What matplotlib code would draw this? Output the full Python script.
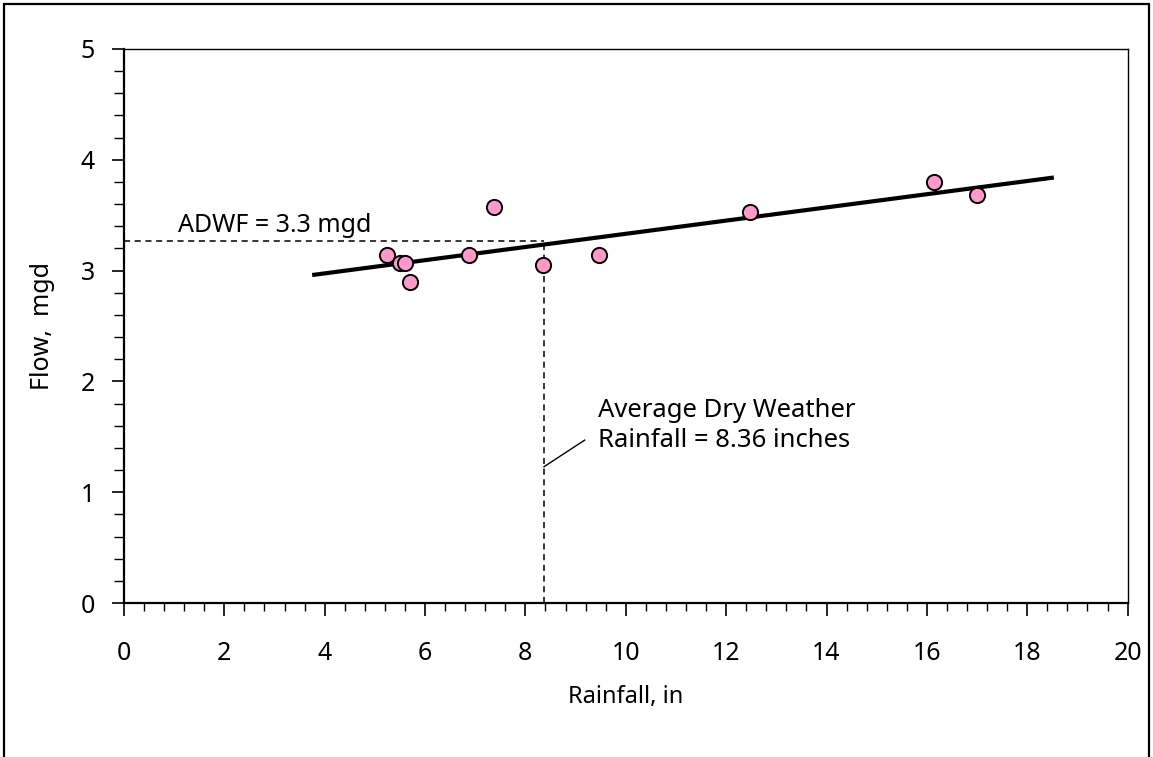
import matplotlib
matplotlib.use("Agg")
import matplotlib.pyplot as plt
from matplotlib.ticker import MultipleLocator
from matplotlib.patches import Rectangle

rainfall = [5.24, 5.50, 5.60, 5.70, 6.87, 7.37, 8.35, 9.46, 12.47, 16.14, 16.99]
flow = [3.14, 3.07, 3.07, 2.90, 3.14, 3.57, 3.05, 3.14, 3.53, 3.80, 3.68]
fit_x = [3.75, 18.53]
fit_y = [2.96, 3.84]
adwf_x = 8.37
adwf_y = 3.27

plt.rcParams['font.family'] = ['Noto Sans', 'DejaVu Sans']
fig = plt.figure(figsize=(11.53, 7.57), dpi=100)
ax = fig.add_axes([0.1075, 0.2034, 0.8705, 0.7319])

ax.plot(fit_x, fit_y, color='black', lw=3.0, solid_capstyle='butt', zorder=2)
ax.scatter(rainfall, flow, s=120, facecolor='#FF99CC', edgecolor='black', linewidth=1.4, zorder=3)
ax.plot([0, adwf_x], [adwf_y, adwf_y], color='black', lw=1.1, ls=(0, (4, 3)), zorder=1)
ax.plot([adwf_x, adwf_x], [0, adwf_y], color='black', lw=1.1, ls=(0, (4, 3)), zorder=1)

ax.text(1.08, 3.35, 'ADWF = 3.3 mgd', fontsize=18, ha='left', va='baseline')
ax.plot([adwf_x, 9.18], [1.23, 1.47], color='black', lw=1.0)
ax.text(9.45, 1.60, 'Average Dry Weather\nRainfall = 8.36 inches', fontsize=18.5,
        ha='left', va='center', linespacing=1.25)

ax.set_xlim(0, 20)
ax.set_ylim(0, 5)
ax.xaxis.set_major_locator(MultipleLocator(2))
ax.xaxis.set_minor_locator(MultipleLocator(0.4))
ax.yaxis.set_major_locator(MultipleLocator(1))
ax.yaxis.set_minor_locator(MultipleLocator(0.2))
ax.tick_params(axis='x', which='major', length=9, width=1.2, pad=18, labelsize=18)
ax.tick_params(axis='x', which='minor', length=6, width=1.0)
ax.tick_params(axis='y', which='major', length=9, width=1.2, pad=12, labelsize=18)
ax.tick_params(axis='y', which='minor', length=7, width=1.0)
for s in ['top', 'right']:
    ax.spines[s].set_linewidth(1.0)
for s in ['left', 'bottom']:
    ax.spines[s].set_linewidth(1.6)

ax.set_xlabel('Rainfall, in', fontsize=17, labelpad=14)
ax.set_ylabel('Flow,  mgd', fontsize=18, labelpad=18)

fig.patches.append(Rectangle((4/1153, -0.05), 1145/1153, 1.05 - 4/757, transform=fig.transFigure,
                             fill=False, edgecolor='black', lw=1.6))

fig.savefig('out.png', dpi=100)
